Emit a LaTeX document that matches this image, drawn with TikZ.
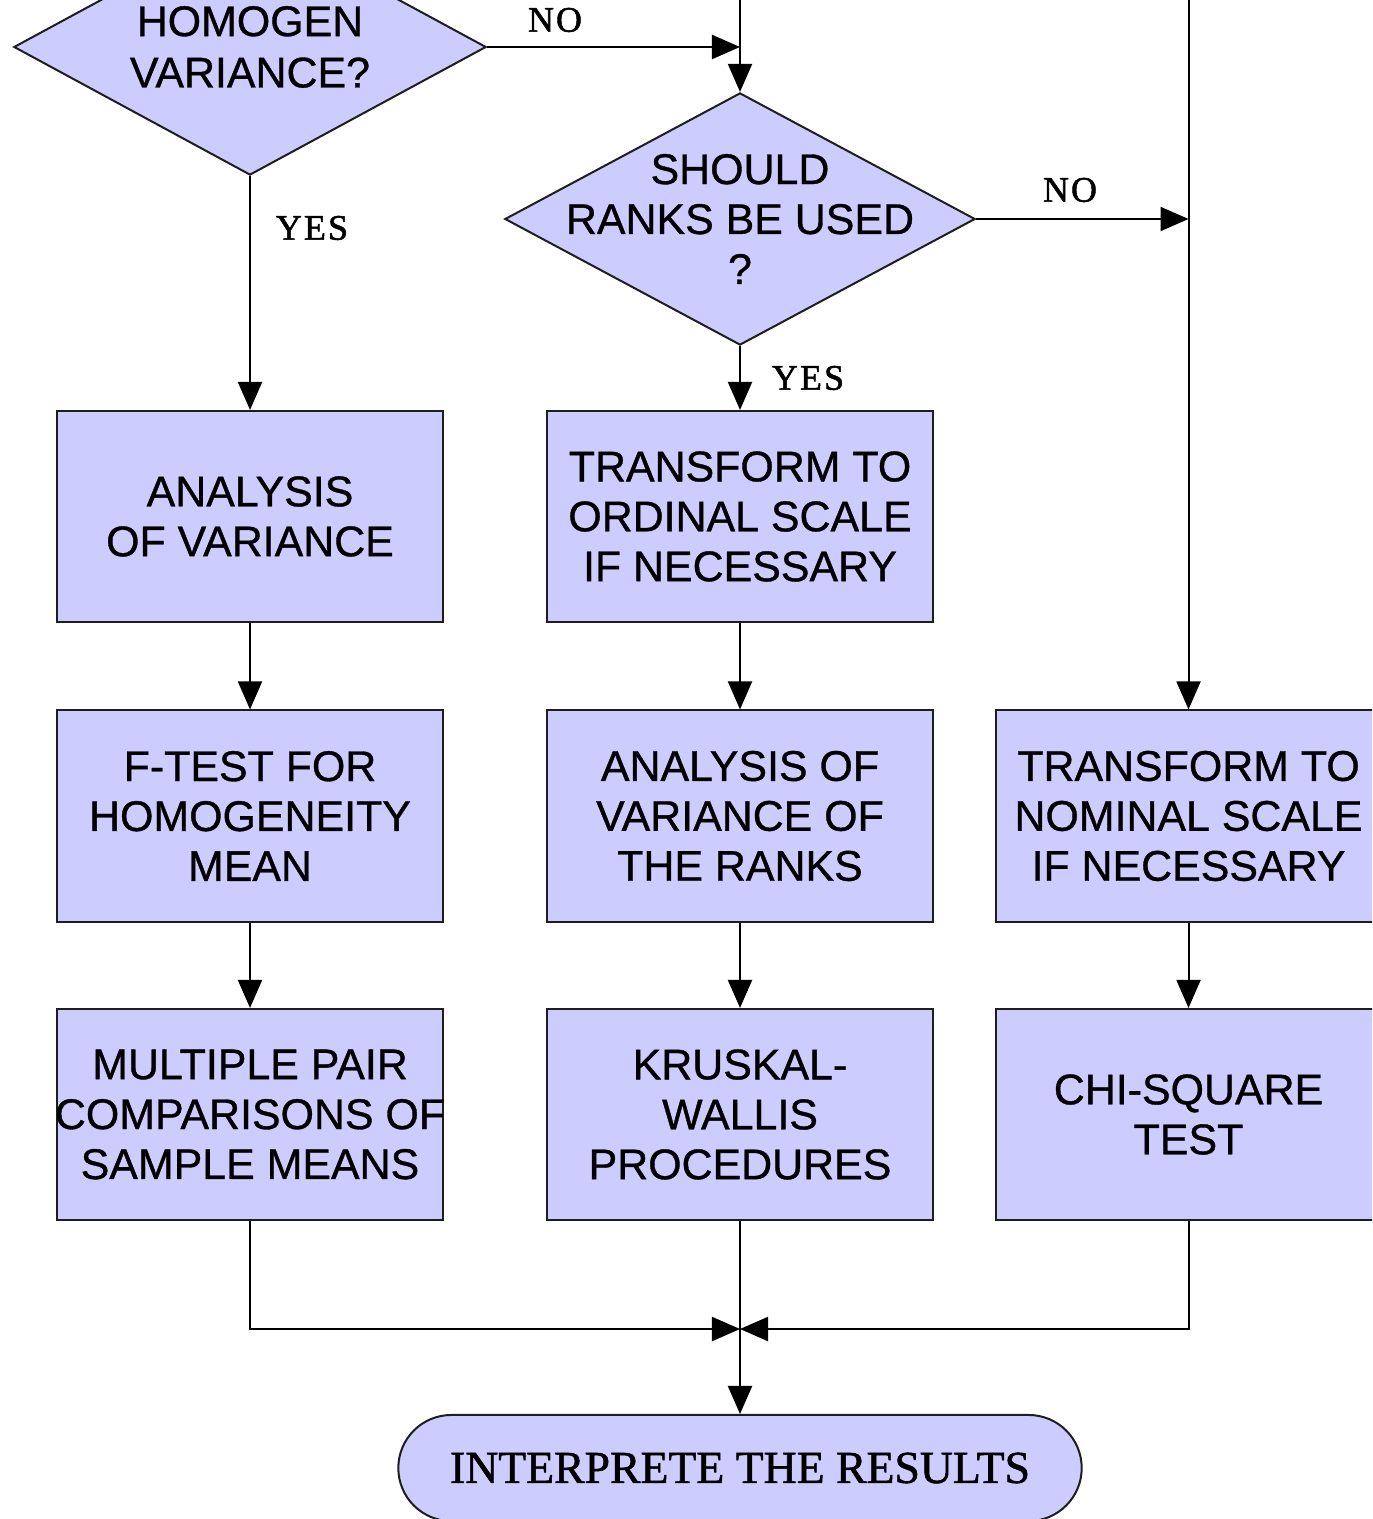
\documentclass[tikz,border=0pt]{standalone}
\usepackage{fontspec}
\setmainfont{Liberation Sans}[FakeBold=0.8]
\newfontfamily\labelfont{Liberation Serif}[LetterSpace=6,FakeBold=1.5]
\newfontfamily\termfont{Liberation Serif}[FakeBold=1.2]
\usetikzlibrary{arrows.meta,shapes.geometric}
\definecolor{boxfill}{RGB}{204,204,255}
\definecolor{edge}{RGB}{30,30,30}

\begin{document}
\begin{tikzpicture}[x=0.01cm,y=-0.01cm,
  proc/.style={rectangle, draw=edge, line width=0.02cm, fill=boxfill,
    minimum width=3.85cm, minimum height=2.11cm, inner sep=0,
    align=center, font=\fontsize{12.2}{14.2}\selectfont},
  decision/.style={diamond, draw=edge, line width=0.02cm, fill=boxfill,
    minimum width=4.72cm, minimum height=2.56cm, inner sep=0},
  txt/.style={align=center, inner sep=0, font=\fontsize{12.2}{14.6}\selectfont},
  term/.style={rectangle, rounded corners=0.53cm, draw=edge, line width=0.02cm,
    fill=boxfill, minimum width=6.83cm, minimum height=1.06cm, inner sep=0,
    font=\termfont\fontsize{13}{15}\selectfont},
  lbl/.style={inner sep=0, font=\labelfont\fontsize{10.2}{12}\selectfont},
  flow/.style={draw=black, line width=0.02cm, -{Triangle[length=0.28cm,width=0.24cm]}},
]
\useasboundingbox (0,0) rectangle (1372,1519);
\clip (0,0) rectangle (1372,1519);

% decisions
\node[decision] (d1) at (250,47) {};
\node[txt] (d1t) at (d1) {HOMOGEN\\VARIANCE?};
\node[decision, minimum width=4.70cm, minimum height=2.52cm] (d2) at (740,219) {};
\node[txt, font=\fontsize{12.2}{14.2}\selectfont] (d2t) at (d2) {SHOULD\\RANKS BE USED\\?};

% left column: parametric route
\node[proc] (a1) at (250,516.5) {ANALYSIS\\OF VARIANCE};
\node[proc] (a2) at (250,816) {F-TEST FOR\\HOMOGENEITY\\MEAN};
\node[proc] (a3) at (250,1114.5) {MULTIPLE PAIR\\\makebox[0pt][c]{COMPARISONS OF}\\SAMPLE MEANS};

% middle column: rank-based route
\node[proc] (b1) at (740,516.5) {TRANSFORM TO\\ORDINAL SCALE\\IF NECESSARY};
\node[proc] (b2) at (740,816) {ANALYSIS OF\\VARIANCE OF\\THE RANKS};
\node[proc] (b3) at (740,1114.5) {KRUSKAL-\\WALLIS\\PROCEDURES};

% right column: nominal route
\node[proc] (c2) at (1188.5,816) {TRANSFORM TO\\NOMINAL SCALE\\IF NECESSARY};
\node[proc] (c3) at (1188.5,1114.5) {CHI-SQUARE\\TEST};

% terminal
\node[term] (end) at (740,1468) {INTERPRETE THE RESULTS};

% junction points
\coordinate (top2) at (740,-10);
\coordinate (top3) at (1188.5,-10);
\coordinate (j1) at (740,47);
\coordinate (j2) at (1188.5,219);
\coordinate (m) at (740,1329);

% connectors
\draw[flow] (d1.east) -- (j1);
\draw[flow] (top2) -- (d2.north);
\draw[flow] (d2.east) -- (j2);
\draw[flow] (top3) -- (c2.north);
\draw[flow] (d1.south) -- (a1.north);
\draw[flow] (d2.south) -- (b1.north);
\draw[flow] (a1) -- (a2);
\draw[flow] (a2) -- (a3);
\draw[flow] (b1) -- (b2);
\draw[flow] (b2) -- (b3);
\draw[flow] (c2) -- (c3);
\draw[flow] (a3.south) |- (m);
\draw[flow] (c3.south) |- (m);
\draw[flow] (b3.south) -- (end.north);

% branch labels
\node[lbl] (no1) at (555,20) {NO};
\node[lbl] (no2) at (1070,190) {NO};
\node[lbl] (yes1) at (312,228) {YES};
\node[lbl] (yes2) at (808,378) {YES};
\end{tikzpicture}
\end{document}
